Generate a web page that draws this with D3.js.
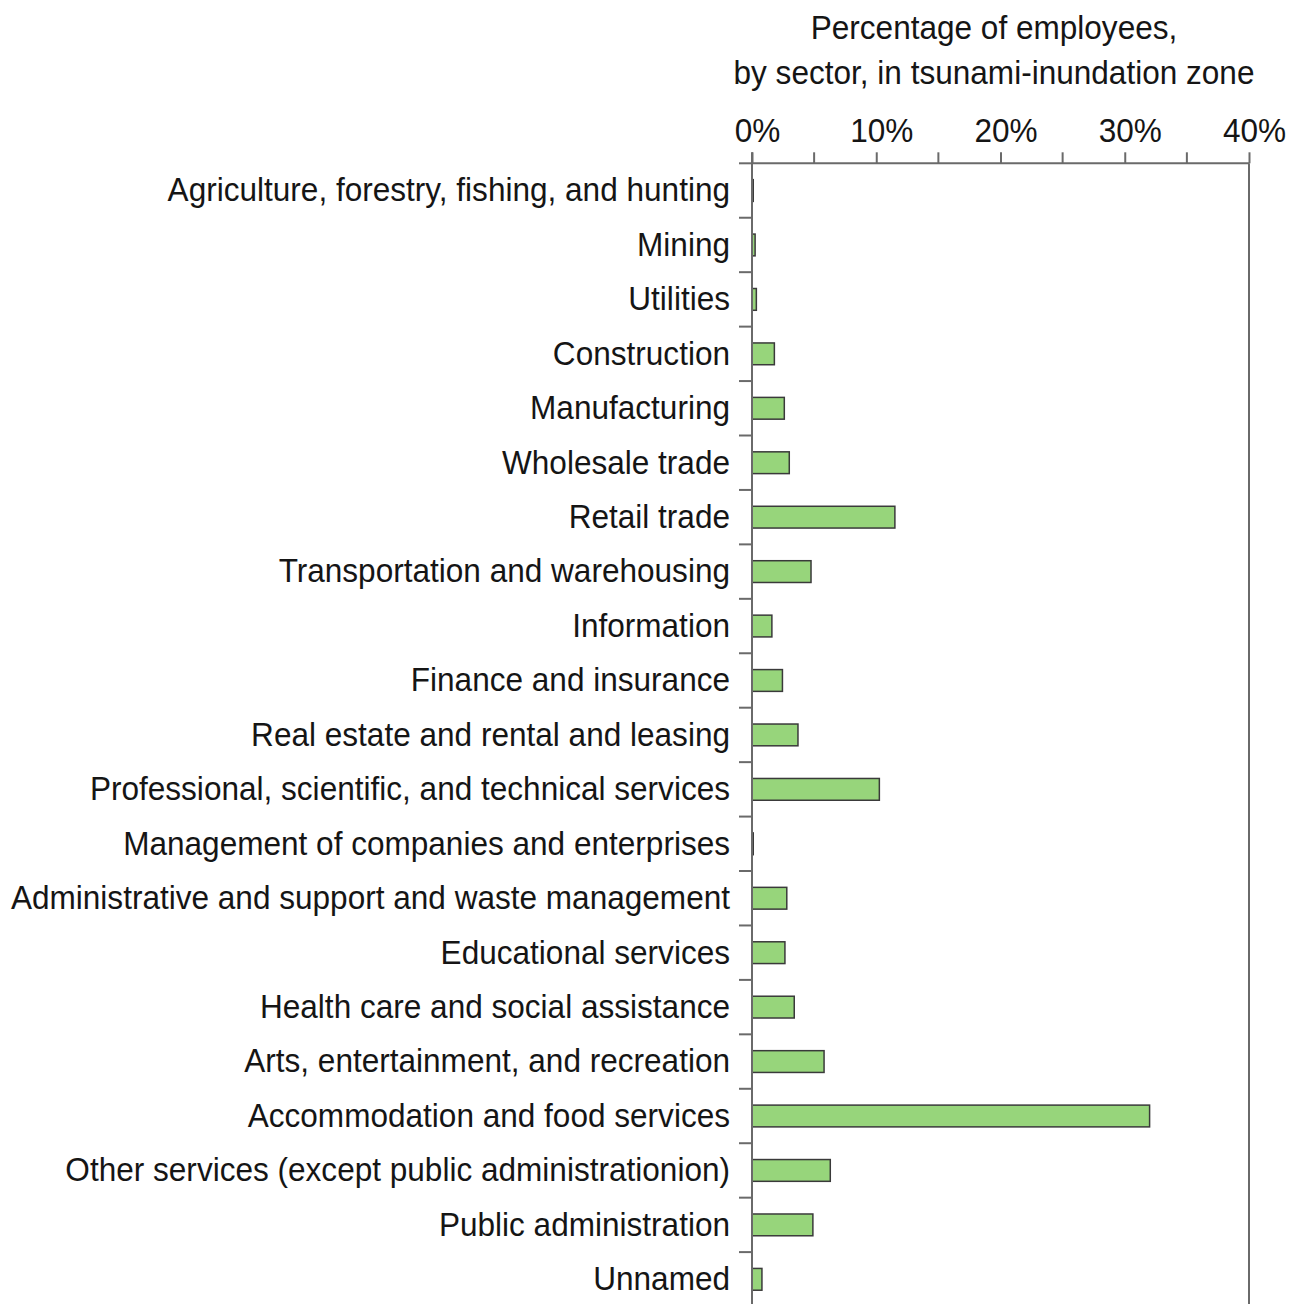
<!DOCTYPE html>
<html>
<head>
<meta charset="utf-8">
<script src="https://cdn.jsdelivr.net/npm/d3@7"></script>
<style>
  html, body { margin: 0; padding: 0; background: #ffffff; }
  svg { display: block; }
  text { font-family: "Liberation Sans Narrow", "Arial Narrow", "Liberation Sans", Arial, sans-serif; fill: #151515; }
</style>
</head>
<body>
<svg id="chart" width="1302" height="1304"></svg>
<script>
const categories = [
  "Agriculture, forestry, fishing, and hunting",
  "Mining",
  "Utilities",
  "Construction",
  "Manufacturing",
  "Wholesale trade",
  "Retail trade",
  "Transportation and warehousing",
  "Information",
  "Finance and insurance",
  "Real estate and rental and leasing",
  "Professional, scientific, and technical services",
  "Management of companies and enterprises",
  "Administrative and support and waste management",
  "Educational services",
  "Health care and social assistance",
  "Arts, entertainment, and recreation",
  "Accommodation and food services",
  "Other services (except public administrationion)",
  "Public administration",
  "Unnamed"
];
const values = [0.1, 0.25, 0.35, 1.8, 2.6, 3.0, 11.5, 4.75, 1.6, 2.45, 3.7, 10.25, 0.1, 2.8, 2.65, 3.4, 5.8, 32.0, 6.3, 4.9, 0.8];
const majorTicks = [0, 10, 20, 30, 40];
const minorTicks = [5, 15, 25, 35];
const tickLabels = ["0%", "10%", "20%", "30%", "40%"];
const titleLines = ["Percentage of employees,", "by sector, in tsunami-inundation zone"];

const svg = d3.select("#chart");
const axisColor = "#6a6a6a";
const fontSize = 34;
const plotLeft = 752, plotRight = 1249, plotTop = 163.3, rowStep = 54.44;

const x = d3.scaleLinear().domain([0, 40]).range([plotLeft, plotRight]);
const y = d3.scaleBand().domain(categories)
  .range([plotTop, plotTop + rowStep * categories.length])
  .paddingInner(0.6).paddingOuter(0.3);

// Title
svg.append("g").selectAll("text").data(titleLines).join("text")
  .attr("x", 994).attr("y", (d, i) => 39 + i * 45)
  .attr("text-anchor", "middle")
  .attr("font-size", fontSize)
  .text(d => d);

// Bars
svg.append("g").selectAll("rect").data(values).join("rect")
  .attr("x", x(0))
  .attr("y", (d, i) => y(categories[i]))
  .attr("width", d => x(d) - x(0))
  .attr("height", y.bandwidth())
  .attr("fill", "#97d57b")
  .attr("stroke", "#3a3a3a")
  .attr("stroke-width", 1.5);

// Top axis
const xAxis = d3.axisTop(x).tickValues(majorTicks)
  .tickFormat((d, i) => tickLabels[i]).tickSize(11).tickPadding(10);
const gx = svg.append("g").attr("transform", `translate(0,${plotTop})`).call(xAxis);
gx.attr("font-family", null).attr("font-size", null);
gx.select(".domain").remove();
gx.selectAll(".tick line").attr("stroke", axisColor).attr("stroke-width", 2);
gx.selectAll(".tick text").attr("font-size", fontSize).attr("fill", "#151515").attr("dx", 5);
svg.append("g").selectAll("line").data(minorTicks).join("line")
  .attr("x1", d => x(d)).attr("x2", d => x(d))
  .attr("y1", plotTop).attr("y2", plotTop - 11)
  .attr("stroke", axisColor).attr("stroke-width", 2);
svg.append("line").attr("x1", x(0)).attr("x2", x(40))
  .attr("y1", plotTop).attr("y2", plotTop).attr("stroke", axisColor).attr("stroke-width", 2);

// Right border
svg.append("line").attr("x1", x(40)).attr("x2", x(40))
  .attr("y1", plotTop).attr("y2", 1310).attr("stroke", axisColor).attr("stroke-width", 2);

// Left axis: labels
const yAxis = d3.axisLeft(y).tickSize(0).tickPadding(22);
const gy = svg.append("g").attr("transform", `translate(${x(0)},0)`).call(yAxis);
gy.attr("font-family", null).attr("font-size", null);
gy.select(".domain").remove();
gy.selectAll(".tick text").attr("font-size", fontSize).attr("fill", "#151515");
// Category boundary ticks
const bounds = d3.range(categories.length + 1).map(i => plotTop + i * y.step());
svg.append("g").selectAll("line").data(bounds).join("line")
  .attr("x1", x(0) - 13).attr("x2", x(0))
  .attr("y1", d => d).attr("y2", d => d)
  .attr("stroke", axisColor).attr("stroke-width", 2);
svg.append("line").attr("x1", x(0)).attr("x2", x(0))
  .attr("y1", plotTop - 11).attr("y2", 1310).attr("stroke", axisColor).attr("stroke-width", 2);

// Condense text horizontally to imitate the narrow typeface
const condense = 0.928;
svg.selectAll("text").each(function() {
  const w = this.getComputedTextLength();
  d3.select(this).attr("textLength", w * condense).attr("lengthAdjust", "spacingAndGlyphs");
});
</script>
</body>
</html>
